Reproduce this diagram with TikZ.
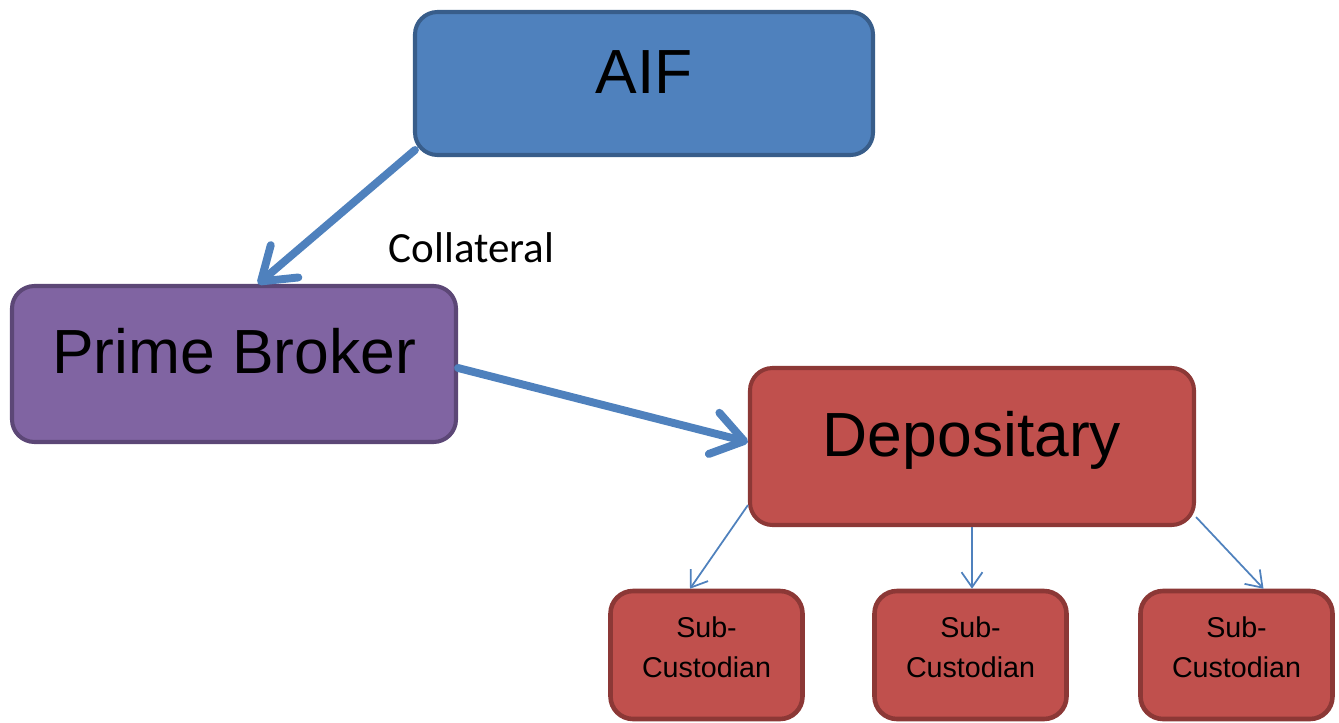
\documentclass[tikz,border=0pt]{standalone}
\usepackage{fontspec}
\setmainfont{Liberation Sans}
\newfontfamily\calibri{Carlito}
\usetikzlibrary{arrows.meta}
\definecolor{aifblue}{RGB}{79,129,189}
\definecolor{aifdark}{RGB}{56,93,138}
\definecolor{pbpurple}{RGB}{128,100,162}
\definecolor{pbdark}{RGB}{92,71,118}
\definecolor{depred}{RGB}{192,80,77}
\definecolor{depdark}{RGB}{140,56,54}

\begin{document}
\begin{tikzpicture}[
    box/.style={draw, rounded corners=0.45cm, line width=2.3pt, inner sep=0pt,
      font=\fontsize{35.5}{40}\selectfont},
    subbox/.style={draw=depdark, fill=depred, rounded corners=0.45cm, line width=2.6pt,
      inner sep=0pt, align=center, minimum width=3.84cm, minimum height=2.56cm,
      text height=1.72cm, text depth=0.84cm, font=\fontsize{16.3}{22.7}\selectfont},
    bigarrow/.style={draw=aifblue, line width=4.5pt, line cap=round,
      -{Straight Barb[length=0.62cm,width=0.85cm,round]}},
    smallarrow/.style={draw=aifblue, line width=1pt,
      -{Straight Barb[length=0.3cm,width=0.42cm]}}
  ]
  \useasboundingbox (0,0) rectangle (26.78,-14.46);

  % boxes
  \node[box, fill=aifblue, draw=aifdark, minimum width=9.16cm, minimum height=2.86cm,
    text height=1.62cm, text depth=1.24cm] (aif) at (12.88,-1.67) {AIF};
  \node[box, fill=pbpurple, draw=pbdark, minimum width=8.88cm, minimum height=3.12cm,
    text height=1.74cm, text depth=1.38cm] (pb) at (4.68,-7.28) {Prime Broker};
  \node[box, fill=depred, draw=depdark, minimum width=8.88cm, minimum height=3.14cm,
    text height=1.76cm, text depth=1.38cm] (dep) at (19.44,-8.93) {Depositary};

  \node[subbox] (sub1) at (14.13,-13.10) {Sub-\\Custodian};
  \node[subbox] (sub2) at (19.41,-13.10) {Sub-\\Custodian};
  \node[subbox] (sub3) at (24.73,-13.10) {Sub-\\Custodian};

  \node[anchor=base, font=\calibri\fontsize{24.5}{28}\selectfont] (coll) at (9.43,-5.24) {Collateral};

  % arrows
  \draw[bigarrow] ([shift={(0.04,0.14)}]aif.south west) -- ([xshift=4.96cm]pb.north west);
  \draw[bigarrow] ([yshift=-0.08cm]pb.east) -- ([yshift=0.09cm]dep.west);

  \draw[smallarrow] ([yshift=0.44cm]dep.south west) -- ([xshift=-0.33cm]sub1.north);
  \draw[smallarrow] (dep.south) -- (dep.south |- sub2.north);
  \draw[smallarrow] ([yshift=0.2cm]dep.south east) -- ([xshift=0.54cm]sub3.north);
\end{tikzpicture}
\end{document}
